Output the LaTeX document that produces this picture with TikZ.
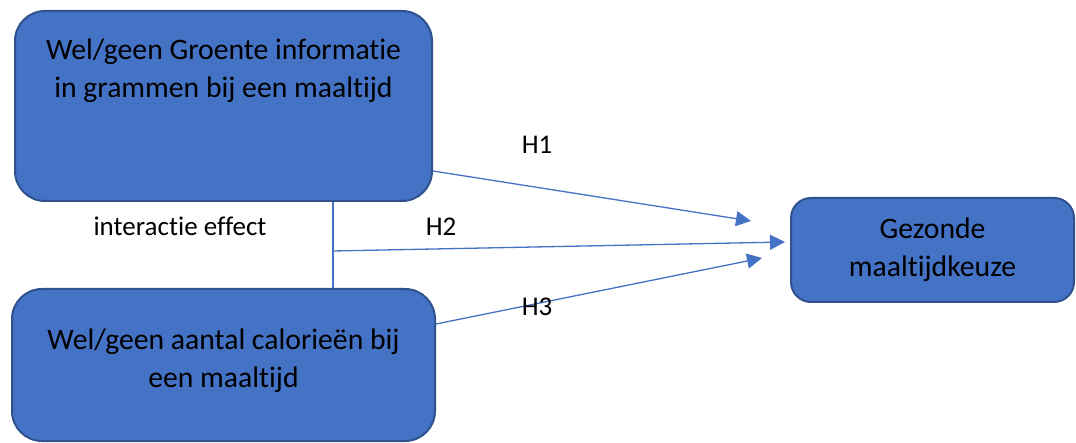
\documentclass[tikz,border=0pt]{standalone}
\usepackage{fontspec}
\setmainfont{Carlito}[Ligatures=NoCommon]
\usetikzlibrary{positioning, arrows.meta, calc}
\definecolor{boxblue}{RGB}{68, 114, 196}
\definecolor{edgeblue}{RGB}{47, 82, 143}
\tikzset{
    % Node Styles
    block/.style={
        rectangle, draw=edgeblue, line width=2pt, fill=boxblue,
        rounded corners=30pt, align=center, text=black,
        font=\fontsize{29.7}{38}\selectfont
    },
    outcome/.style={block, rounded corners=20pt},
    % Arrow Styles
    hyp_arrow/.style={-{Triangle[length=15pt, width=15pt]}, line width=1.3pt, color=boxblue},
    link_line/.style={line width=1.3pt, color=boxblue},
    hyp_label/.style={font=\fontsize{27}{30}\selectfont, inner sep=0pt}
}
\begin{document}
\begin{tikzpicture}[x=1pt, y=-1pt]

    \useasboundingbox (0,0) rectangle (1076,443);

    % --- 1. Independent variables ---
    \node [block, minimum width=417pt, minimum height=190pt] (groente) at (223.5,106) {
        Wel/geen Groente informatie \\ in grammen bij een maaltijd \\ \mbox{} \\ \mbox{}
    };
    \node [block, minimum width=423pt, minimum height=152pt] (calorie) at (223.5,365) {
        Wel/geen aantal calorieën bij \\ een maaltijd \\[-24pt] \mbox{}
    };

    % --- 2. Dependent variable ---
    \node [outcome, minimum width=283pt, minimum height=104pt] (keuze) at (932.5,250) {
        Gezonde \\ maaltijdkeuze
    };

    % --- 3. Hypotheses ---
    \coordinate (h1end) at (751,221);
    \coordinate (h2end) at (785,242);
    \coordinate (h3end) at (762,258);
    \coordinate (split) at (333,251);

    \draw [hyp_arrow] ([yshift=-65pt]groente.east) -- (h1end);
    \draw [link_line] (split |- groente.south) -- (split |- calorie.north);
    \draw [hyp_arrow] (split) -- (h2end);
    \draw [hyp_arrow] ([yshift=41pt]calorie.east) -- (h3end);

    % Labels
    \node [hyp_label] (h1) at (537,145) {H1};
    \node [hyp_label] (h2) at (441,227) {H2};
    \node [hyp_label] (h3) at (537,307) {H3};
    \node [hyp_label] (inter) at (180,226) {interactie effect};

\end{tikzpicture}
\end{document}
